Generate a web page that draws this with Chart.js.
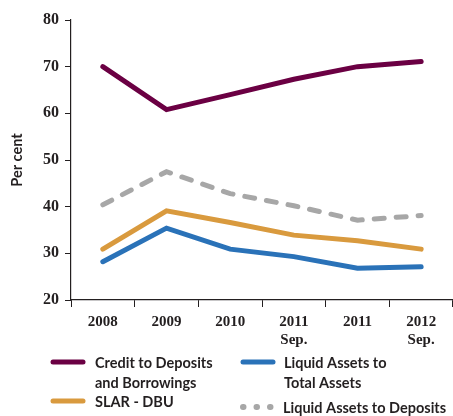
<!DOCTYPE html>
<html>
<head>
<meta charset="utf-8">
<script src="https://cdn.jsdelivr.net/npm/chart.js@4"></script>
<style>
  html, body { margin: 0; padding: 0; background: #fff; }
  #wrap { position: relative; width: 453px; height: 416px; }
</style>
</head>
<body>
<div id="wrap"><canvas id="chart" width="453" height="416"></canvas></div>
<script>
const categories = [['2008'], ['2009'], ['2010'], ['2011', 'Sep.'], ['2011'], ['2012', 'Sep.']];

const creditToDeposits = [70.0, 60.8, 64.0, 67.3, 70.0, 71.1];
const slarDbu = [30.9, 39.1, 36.6, 33.9, 32.7, 30.9];
const liquidToTotal = [28.2, 35.4, 30.9, 29.3, 26.8, 27.1];
const liquidToDeposits = [40.4, 47.5, 42.8, 40.2, 37.1, 38.1];

const legendLines = [
    ['Credit to Deposits', 'and Borrowings'],
    ['SLAR - DBU'],
    ['Liquid Assets to', 'Total Assets'],
    ['Liquid Assets to Deposits']
];

const tickFont = { family: '"Liberation Serif", serif', size: 15, weight: 'bold' };
const legendFont = 'bold 14.5px "Lato", "Open Sans", sans-serif';

// legend placement: sample line start x, y of first text line, text x
const legendPos = [
    { x: 51, y: 362, tx: 95 },
    { x: 51, y: 401, tx: 95 },
    { x: 241, y: 362, tx: 284 },
    { x: 241, y: 407, tx: 283 }
];

const legendPlugin = {
    id: 'customLegend',
    afterDraw(chart) {
        const ctx = chart.ctx;
        ctx.save();
        chart.data.datasets.forEach((ds, i) => {
            const p = legendPos[i];
            ctx.strokeStyle = ds.borderColor;
            ctx.lineWidth = 5;
            ctx.lineCap = 'round';
            if (ds.borderDash) {
                ctx.setLineDash([0.5, 13]);
                ctx.lineWidth = 6;
            } else {
                ctx.setLineDash([]);
            }
            ctx.beginPath();
            ctx.moveTo(p.x + 2, p.y);
            ctx.lineTo(p.x + 32, p.y);
            ctx.stroke();
            ctx.setLineDash([]);
            ctx.fillStyle = '#231f20';
            ctx.font = legendFont;
            ctx.textBaseline = 'middle';
            ctx.textAlign = 'left';
            legendLines[i].forEach((line, j) => {
                ctx.fillText(line, p.tx, p.y + j * 20 + 1);
            });
        });
        ctx.restore();
    }
};

const data = {
    labels: categories,
    datasets: [{
        label: legendLines[0].join(' '),
        data: creditToDeposits,
        borderColor: '#6b0043',
        borderWidth: 5
    }, {
        label: legendLines[1].join(' '),
        data: slarDbu,
        borderColor: '#d99a3e',
        borderWidth: 5
    }, {
        label: legendLines[2].join(' '),
        data: liquidToTotal,
        borderColor: '#2a72b8',
        borderWidth: 5
    }, {
        label: legendLines[3].join(' '),
        data: liquidToDeposits,
        borderColor: '#a7a7a7',
        borderWidth: 5,
        borderDash: [10, 12],
        borderCapStyle: 'round'
    }]
};

const config = {
    type: 'line',
    data: data,
    options: {
        responsive: false,
        animation: false,
        layout: { padding: { top: 20, right: 0, left: 0, bottom: 0 } },
        elements: {
            point: { radius: 0 },
            line: { tension: 0, borderCapStyle: 'round', borderJoinStyle: 'miter', fill: false }
        },
        plugins: {
            legend: { display: false },
            tooltip: { enabled: false }
        },
        scales: {
            x: {
                offset: true,
                grid: { offset: true, drawOnChartArea: false, tickLength: 7, color: '#231f20', lineWidth: 1 },
                border: { color: '#231f20', width: 1.2 },
                ticks: { color: '#231f20', font: tickFont, maxRotation: 0, autoSkip: false, padding: 6 },
                afterFit(scale) { scale.height = 116; }
            },
            y: {
                min: 20,
                max: 80,
                ticks: { stepSize: 10, color: '#231f20', font: { family: '"Liberation Serif", serif', size: 16, weight: 'bold' }, padding: 6 },
                grid: { drawOnChartArea: false, tickLength: 6, color: '#231f20' },
                border: { color: '#231f20', width: 1.2 },
                title: {
                    display: true,
                    text: 'Per cent',
                    color: '#231f20',
                    font: { family: '"Lato", "Open Sans", sans-serif', size: 14.5, weight: 'bold' },
                    padding: { top: 9, bottom: 0 }
                },
                afterFit(scale) { scale.width = 71; }
            }
        }
    },
    plugins: [legendPlugin]
};

const myChart = new Chart(document.getElementById('chart'), config);
</script>
</body>
</html>
